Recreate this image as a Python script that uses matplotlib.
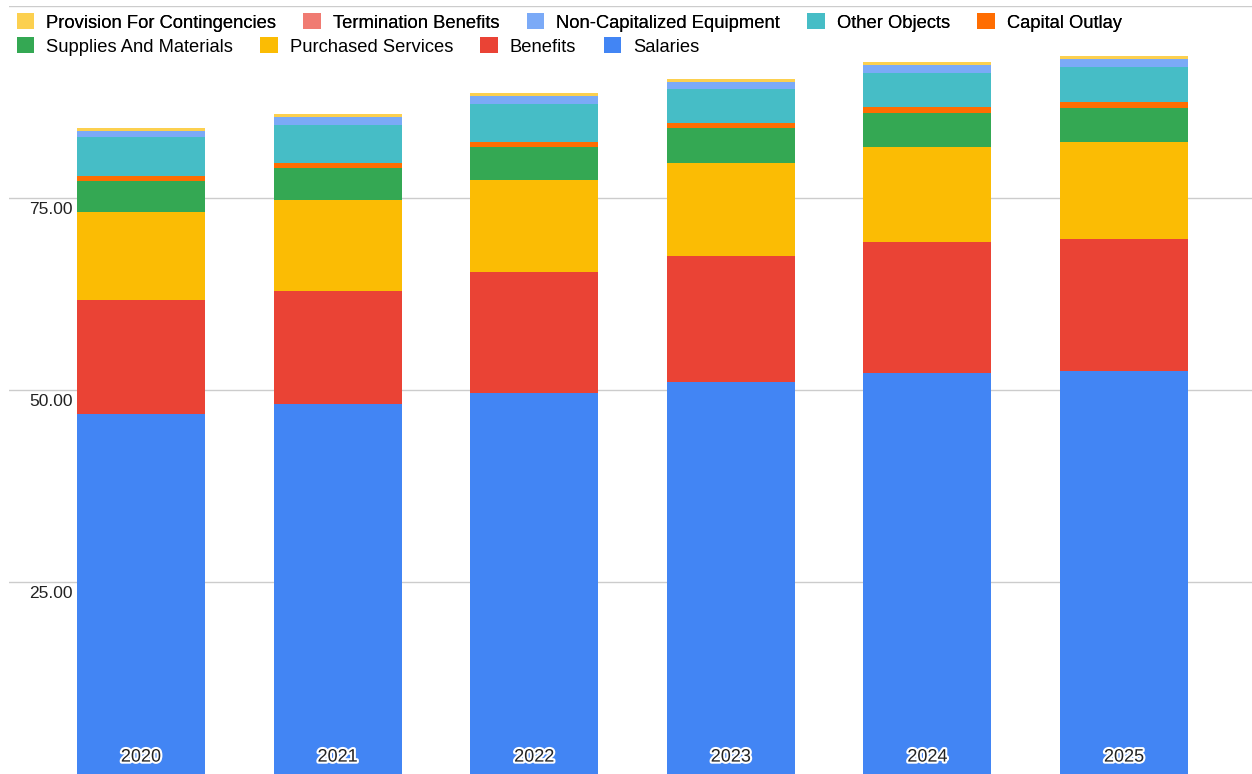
import matplotlib.pyplot as plt
import matplotlib.patheffects as pe
import numpy as np

plt.rcParams['font.family'] = ['Liberation Sans', 'DejaVu Sans']

years = ["2020", "2021", "2022", "2023", "2024", "2025"]

# bottom to top of each stack
salaries = [46.9, 48.2, 49.6, 51.0, 52.2, 52.5]
benefits = [14.8, 14.7, 15.8, 16.4, 17.1, 17.2]
purchased_services = [11.5, 11.8, 11.9, 12.1, 12.4, 12.6]
supplies_materials = [4.0, 4.2, 4.3, 4.6, 4.4, 4.4]
capital_outlay = [0.7, 0.65, 0.65, 0.65, 0.8, 0.8]
other_objects = [5.0, 5.0, 5.0, 4.4, 4.4, 4.5]
non_cap_equipment = [0.8, 1.0, 1.0, 0.9, 1.0, 1.1]
termination_benefits = [0.05, 0.05, 0.05, 0.1, 0.05, 0.05]
provision_contingencies = [0.35, 0.35, 0.35, 0.3, 0.35, 0.35]

series = [
    ("Salaries", salaries, "#4285F4"),
    ("Benefits", benefits, "#EA4335"),
    ("Purchased Services", purchased_services, "#FBBC04"),
    ("Supplies And Materials", supplies_materials, "#34A853"),
    ("Capital Outlay", capital_outlay, "#FF6D01"),
    ("Other Objects", other_objects, "#46BDC6"),
    ("Non-Capitalized Equipment", non_cap_equipment, "#7BAAF7"),
    ("Termination Benefits", termination_benefits, "#F07B72"),
    ("Provision For Contingencies", provision_contingencies, "#FCD04F"),
]

fig = plt.figure(figsize=(12.52, 7.74), dpi=100)
ax = fig.add_axes([9 / 1252, 0, 1 - 9 / 1252, 768 / 774])

x = np.arange(len(years))
bottom = np.zeros(len(years))
handles = {}
for name, vals, color in series:
    vals = np.array(vals)
    h = ax.bar(x, vals, width=0.651, bottom=bottom, color=color, zorder=2, label=name)
    handles[name] = h
    bottom += vals

ax.set_xlim(-0.6714, 5.651)
ax.set_ylim(0, 100)
ax.set_yticks([25, 50, 75, 100])
ax.set_yticklabels([])
ax.grid(axis='y', color='#cccccc', linewidth=1, zorder=0)
ax.tick_params(length=0)
ax.set_xticks([])
for s in ax.spines.values():
    s.set_visible(False)

for v in [25, 50, 75]:
    ax.text(64 / 1243, v - 0.55, f"{v:.2f}", transform=ax.get_yaxis_transform(),
            ha='right', va='top', fontsize=12.5, color='#222222')

for i, yr in enumerate(years):
    ax.text(i, 2.2, yr, ha='center', va='center', fontsize=13, color='#222222', zorder=5,
            path_effects=[pe.withStroke(linewidth=3, foreground='white')])

row1 = ["Provision For Contingencies", "Termination Benefits", "Non-Capitalized Equipment",
        "Other Objects", "Capital Outlay"]
row2 = ["Supplies And Materials", "Purchased Services", "Benefits", "Salaries"]

legend_kw = dict(loc='upper left', frameon=False, fontsize=13.2, handlelength=0.95,
                 handleheight=0.95, handletextpad=0.65, columnspacing=1.5)
leg1 = fig.legend([handles[n] for n in row1], row1, ncol=5,
                  bbox_to_anchor=(0.0, 1.004), **legend_kw)
leg2 = fig.legend([handles[n] for n in row2], row2, ncol=4,
                  bbox_to_anchor=(0.0, 0.973), **legend_kw)
fig.add_artist(leg1)

fig.savefig("out.png", dpi=100, facecolor='white')
